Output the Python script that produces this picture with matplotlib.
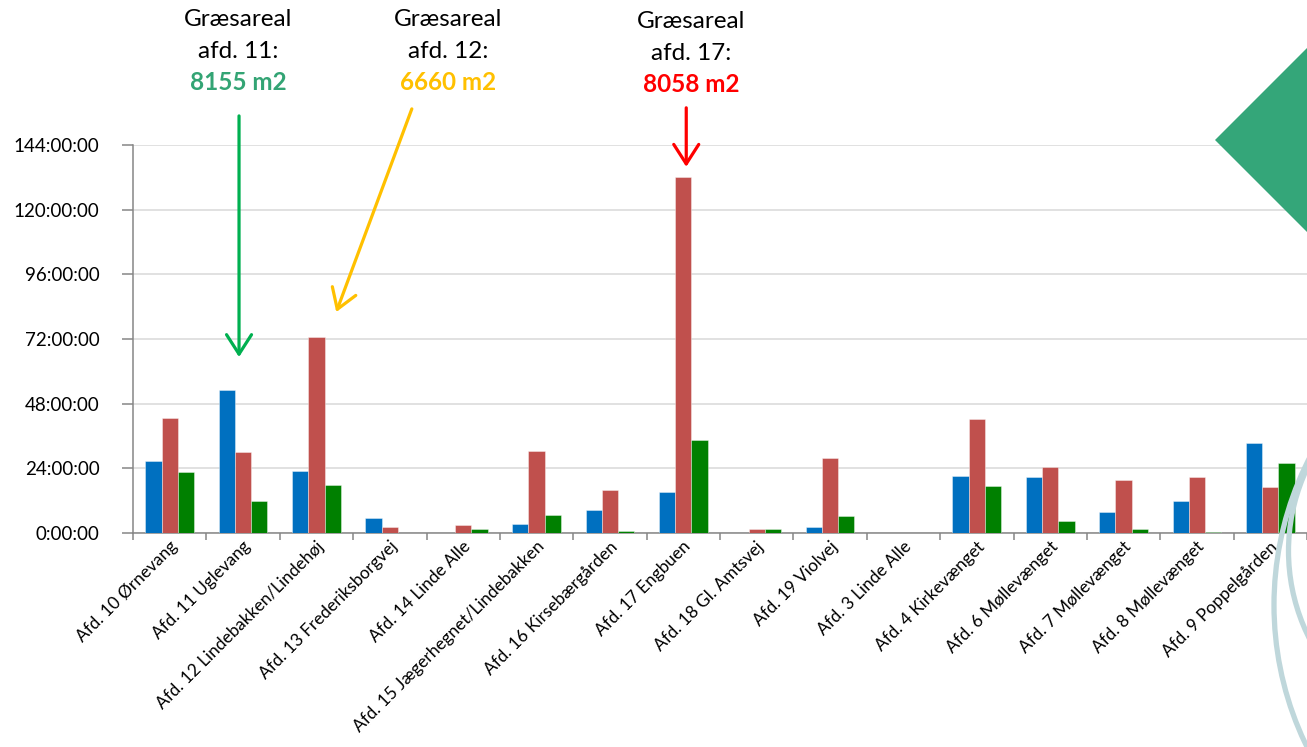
import matplotlib
matplotlib.use("Agg")
import matplotlib.pyplot as plt
import numpy as np
from matplotlib.patches import Circle, Polygon
from matplotlib.ticker import FixedLocator, FuncFormatter
from matplotlib.transforms import ScaledTranslation, blended_transform_factory

plt.rcParams["font.family"] = ["Lato", "DejaVu Sans"]

afdelinger = [
    "Afd. 10 Ørnevang",
    "Afd. 11 Uglevang",
    "Afd. 12 Lindebakken/Lindehøj",
    "Afd. 13 Frederiksborgvej",
    "Afd. 14 Linde Alle",
    "Afd. 15 Jægerhegnet/Lindebakken",
    "Afd. 16 Kirsebærgården",
    "Afd. 17 Engbuen",
    "Afd. 18 Gl. Amtsvej",
    "Afd. 19 Violvej",
    "Afd. 3 Linde Alle",
    "Afd. 4 Kirkevænget",
    "Afd. 6 Møllevænget",
    "Afd. 7 Møllevænget",
    "Afd. 8 Møllevænget",
    "Afd. 9 Poppelgården",
]

# timer pr. afdeling (tre serier)
timer_bla = [26.9, 53.1, 22.9, 5.7, 0, 3.2, 8.4, 15.4, 0, 2.4, 0, 21.0, 20.6, 7.9, 12.0, 33.4]
timer_rod = [42.8, 30.2, 72.6, 2.4, 3.0, 30.6, 15.8, 132.0, 1.6, 27.7, 0, 42.2, 24.6, 19.6, 20.8, 17.0]
timer_gron = [22.6, 11.8, 17.7, 0, 1.5, 6.8, 0.9, 34.4, 1.4, 6.3, 0, 17.4, 4.6, 1.3, 0.5, 25.8]

y_ticks = [0, 24, 48, 72, 96, 120, 144]

# græsareal-noter: afdeling-index, tekst, farve
noter = [
    (1, "afd. 11:", "8155 m2", "#33A474"),
    (2, "afd. 12:", "6660 m2", "#FFC000"),
    (7, "afd. 17:", "8058 m2", "#FF0000"),
]

W, H = 1307, 747
fig = plt.figure(figsize=(W / 100, H / 100), dpi=100)
fig.patch.set_facecolor("white")

# baggrundsgrafik: grøn trekant og lyseblå buer
fig.patches.append(Polygon([(1215 / W, 1 - 140 / H), (1312 / W, 1 - 43 / H), (1312 / W, 1 - 237 / H)],
                           closed=True, transform=fig.transFigure, facecolor="#34A679",
                           edgecolor="none", zorder=0))
for cx, cy, r in [(15.96, (H - 605) / 100, 3.22), (14.82, (H - 551) / 100, 1.935)]:
    fig.patches.append(Circle((cx, cy), r, transform=fig.dpi_scale_trans, fill=False,
                              edgecolor="#BFD7DB", lw=3.8, zorder=0))

left, right, bottom, top = 133, 1307, 533, 145
ax = fig.add_axes([left / W, 1 - bottom / H, (right - left) / W, (bottom - top) / H])
ax.set_facecolor("none")

x = np.arange(len(afdelinger))
bw = 0.222
for off, vals, col in [(-bw, timer_bla, "#0070C0"), (0, timer_rod, "#C0504D"), (bw, timer_gron, "#008000")]:
    ax.bar(x + off, vals, width=bw, color=col, edgecolor=(1, 1, 1, 0.45), linewidth=0.6, zorder=3)

ax.set_xlim(-0.5, len(afdelinger) - 0.5)
ax.set_ylim(0, 144)
ax.yaxis.set_major_locator(FixedLocator(y_ticks))
ax.yaxis.set_major_formatter(FuncFormatter(lambda v, _: f"{int(v)}:00:00"))
ax.grid(axis="y", color="#D9D9D9", lw=1.1, zorder=0)
ax.set_axisbelow(True)

ax.set_xticks(x)
ax.set_xticks(np.arange(-0.5, len(afdelinger)), minor=True)
ax.set_xticklabels(afdelinger, rotation=45, ha="right", va="center", rotation_mode="anchor", fontsize=12.4)
ax.tick_params(axis="x", which="major", length=0, pad=8)
ax.tick_params(axis="x", which="minor", length=5, width=1.1, color="#868686")
ax.tick_params(axis="y", length=8, width=1.1, color="#868686", pad=16, labelsize=13.5)
flyt = ScaledTranslation(5 / 100, 0, fig.dpi_scale_trans)
for lbl in ax.get_xticklabels():
    lbl.set_transform(lbl.get_transform() + flyt)

for side in ["top", "right"]:
    ax.spines[side].set_visible(False)
for side in ["left", "bottom"]:
    ax.spines[side].set_color("#868686")
    ax.spines[side].set_linewidth(1.1)

# noter over diagrammet
bt = blended_transform_factory(ax.transData, fig.transFigure)
tx = {1: 0.93, 2: 3.80, 7: 7.11}
dy = {1: 0, 2: 0, 7: 3}
for idx, linje2, areal, col in noter:
    xt = tx[idx]
    ax.text(xt, 1 - (19 + dy[idx]) / H, "Græsareal", transform=bt, ha="center", va="center", fontsize=17.5)
    ax.text(xt, 1 - (51 + dy[idx]) / H, linje2, transform=bt, ha="center", va="center", fontsize=17.5)
    ax.text(xt, 1 - (82 + dy[idx]) / H, areal, transform=bt, ha="center", va="center", fontsize=17.5,
            fontweight="bold", color=col)

# pile mod de fremhævede søjler
pile = [
    ((0.945, 154.8), (0.945, 65.3), "#00B050"),
    ((3.30, 157.4), (2.27, 82.0), "#FFC000"),
    ((7.04, 157.8), (7.04, 135.9), "#FF0000"),
]
for start, slut, col in pile:
    ax.annotate("", xy=slut, xytext=start, xycoords="data", textcoords="data", annotation_clip=False,
                arrowprops=dict(arrowstyle="->,head_length=0.7,head_width=0.45", color=col, lw=2.3,
                                mutation_scale=20, shrinkA=0, shrinkB=0))

fig.savefig("out.png", dpi=100)
